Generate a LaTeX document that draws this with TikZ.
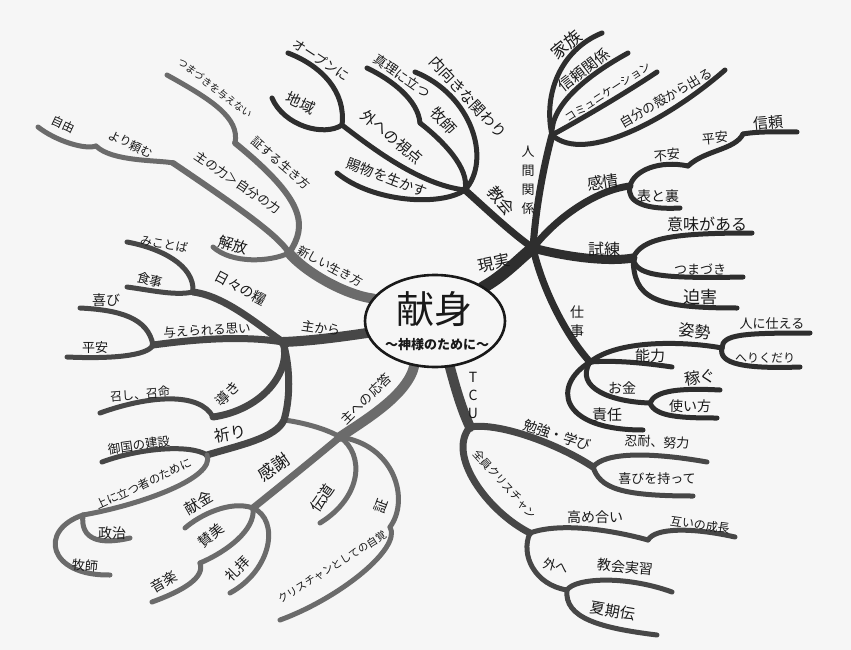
\documentclass[tikz,border=0pt]{standalone}
\usepackage{fontspec}
\setmainfont{Noto Sans CJK JP}
\usepackage{xcolor}
\usetikzlibrary{shapes.geometric}

\definecolor{paper}{gray}{0.965}
\definecolor{inkdark}{gray}{0.18}
\definecolor{inkmid}{gray}{0.28}
\definecolor{inklight}{gray}{0.42}
\definecolor{pen}{gray}{0.10}

\newcommand{\fs}[1]{\fontsize{#1}{#1}\selectfont}

\tikzset{
  branch/.style={line cap=round, line join=round},
  trunk/.style={branch, line width=10pt},
  limb/.style={branch, line width=7pt},
  twig/.style={branch, line width=5pt},
  lbl/.style={inner sep=0pt, text=pen},
  rim/.style={draw=pen, ellipse, line width=2.6pt, fill=paper,
    minimum width=140pt, minimum height=92pt},
}

\begin{document}
\begin{tikzpicture}[x=1pt, y=-1pt]
  \fill[paper] (0,0) rectangle (851,650);
  \useasboundingbox (0,0) rectangle (851,650);

  % ---- centre ----
  \node[ellipse, minimum width=140pt, minimum height=92pt] (core) at (435,321) {};

  % ---- hubs ----
  \coordinate (hubReal) at (533,248);
  \coordinate (hubFam) at (552,135);
  \coordinate (hubChurch) at (465,190);
  \coordinate (hubOpen) at (342,125);
  \coordinate (hubTruth) at (420,123);
  \coordinate (hubFeel) at (630,186);
  \coordinate (hubUneasy) at (688,166);
  \coordinate (hubPeace) at (743,134);
  \coordinate (hubTrial) at (633,258);
  \coordinate (hubWork) at (590,362);
  \coordinate (hubPose) at (722,348);
  \coordinate (hubMoney) at (650,403);
  \coordinate (hubTCU) at (470,427);
  \coordinate (hubStudy) at (593,467);
  \coordinate (hubAll) at (530,533);
  \coordinate (hubGrow) at (648,540);
  \coordinate (hubOut) at (567,590);
  \coordinate (hubAns) at (340,437);
  \coordinate (hubThank) at (253,508);
  \coordinate (hubPraise) at (200,563);
  \coordinate (hubSho) at (390,527);
  \coordinate (hubFrom) at (283,342);
  \coordinate (hubDaily) at (193,292);
  \coordinate (hubGiven) at (153,345);
  \coordinate (hubGuide) at (213,417);
  \coordinate (kPray) at (284,420);
  \coordinate (hubPray) at (207,455);
  \coordinate (hubUpper) at (83,515);
  \coordinate (hubNew) at (289,253);
  \coordinate (hubWit) at (235,143);
  \coordinate (hubPow) at (173,163);
  \coordinate (hubRely) at (96,146);

  % ---- tips ----
  \coordinate (tFamily) at (602,33);
  \coordinate (tTrust) at (628,53);
  \coordinate (tComm) at (657,72);
  \coordinate (tShell) at (725,70);
  \coordinate (tGift) at (337,173);
  \coordinate (tInward) at (415,72);
  \coordinate (tTruth) at (367,68);
  \coordinate (tOpen) at (288,53);
  \coordinate (tArea) at (272,98);
  \coordinate (tTrustB) at (797,132);
  \coordinate (tFace) at (680,208);
  \coordinate (tMeaning) at (752,233);
  \coordinate (tStumble) at (743,277);
  \coordinate (tPersec) at (737,308);
  \coordinate (tServe) at (810,333);
  \coordinate (tHumble) at (800,367);
  \coordinate (tAbility) at (672,367);
  \coordinate (tEarn) at (720,390);
  \coordinate (tUse) at (717,418);
  \coordinate (tDuty) at (643,430);
  \coordinate (tPatience) at (707,462);
  \coordinate (tJoyB) at (693,496);
  \coordinate (tGrow) at (735,537);
  \coordinate (tPractice) at (672,592);
  \coordinate (tSummer) at (657,635);
  \coordinate (tMission) at (320,523);
  \coordinate (tSelf) at (280,620);
  \coordinate (tGift2) at (185,528);
  \coordinate (tMusic) at (152,602);
  \coordinate (tWorship) at (230,593);
  \coordinate (tWord) at (127,242);
  \coordinate (tMeal) at (127,287);
  \coordinate (tJoy) at (80,308);
  \coordinate (tPeace) at (67,357);
  \coordinate (tCall) at (100,413);
  \coordinate (tKingdom) at (102,462);
  \coordinate (tPolitics) at (130,538);
  \coordinate (tPastor) at (110,575);
  \coordinate (tRelease) at (213,247);
  \coordinate (tNoStumble) at (167,75);
  \coordinate (tFree) at (38,127);

  % ---- 現実 ----
  \draw[trunk, line width=12pt, inkdark] (core.35) .. controls (505,275) and (520,258) .. (hubReal);
  \draw[limb, inkdark] (hubReal) .. controls (536,205) and (544,165) .. (hubFam);
  \draw[twig, inkdark] (hubFam) .. controls (543,95) and (560,50) .. (tFamily);
  \draw[twig, inkdark] (hubFam) .. controls (550,105) and (588,75) .. (tTrust);
  \draw[twig, inkdark] (hubFam) .. controls (565,128) and (615,100) .. (tComm);
  \draw[twig, inkdark] (hubFam) .. controls (585,165) and (670,118) .. (tShell);
  \draw[limb, inkdark] (hubReal) .. controls (510,232) and (482,205) .. (hubChurch);
  \draw[twig, inkdark] (hubChurch) .. controls (440,207) and (372,202) .. (tGift);
  \draw[twig, inkdark] (hubChurch) .. controls (420,185) and (372,148) .. (hubOpen);
  \draw[twig, inkdark] (hubChurch) .. controls (470,168) and (442,140) .. (hubTruth);
  \draw[twig, inkdark] (hubChurch) .. controls (492,160) and (472,95) .. (tInward);
  \draw[twig, inkdark] (hubTruth) .. controls (418,100) and (392,80) .. (tTruth);
  \draw[twig, inkdark] (hubOpen) .. controls (346,92) and (322,66) .. (tOpen);
  \draw[twig, inkdark] (hubOpen) .. controls (324,137) and (284,126) .. (tArea);
  \draw[limb, inkdark] (hubReal) .. controls (556,218) and (596,190) .. (hubFeel);
  \draw[twig, inkdark] (hubFeel) .. controls (634,170) and (660,160) .. (hubUneasy);
  \draw[twig, inkdark] (hubUneasy) .. controls (705,150) and (735,150) .. (hubPeace);
  \draw[twig, inkdark] (hubPeace) .. controls (760,131) and (780,132) .. (tTrustB);
  \draw[twig, inkdark] (hubFeel) .. controls (626,202) and (645,210) .. (tFace);
  \draw[limb, line width=9pt, inkdark] (hubReal) .. controls (570,258) and (610,262) .. (hubTrial);
  \draw[twig, inkdark] (hubTrial) .. controls (642,238) and (672,233) .. (tMeaning);
  \draw[twig, inkdark] (hubTrial) .. controls (636,274) and (652,279) .. (tStumble);
  \draw[twig, inkdark] (hubTrial) .. controls (634,298) and (652,308) .. (tPersec);
  \draw[limb, inkdark] (hubReal) .. controls (543,292) and (568,338) .. (hubWork);
  \draw[twig, inkdark] (hubWork) .. controls (620,338) and (690,342) .. (hubPose);
  \draw[twig, inkdark] (hubPose) .. controls (722,334) and (745,333) .. (tServe);
  \draw[twig, inkdark] (hubPose) .. controls (718,364) and (745,369) .. (tHumble);
  \draw[twig, inkdark] (hubWork) .. controls (615,360) and (645,363) .. (tAbility);
  \draw[twig, inkdark] (hubWork) .. controls (574,388) and (612,402) .. (hubMoney);
  \draw[twig, inkdark] (hubMoney) .. controls (655,390) and (682,388) .. (tEarn);
  \draw[twig, inkdark] (hubMoney) .. controls (655,417) and (682,418) .. (tUse);
  \draw[twig, inkdark] (hubWork) .. controls (552,385) and (558,430) .. (tDuty);

  % ---- TCU ----
  \draw[trunk, inkmid] (core.-72) .. controls (456,390) and (462,410) .. (hubTCU);
  \draw[limb, inkmid] (hubTCU) .. controls (500,422) and (560,445) .. (hubStudy);
  \draw[twig, inkmid] (hubStudy) .. controls (605,452) and (650,452) .. (tPatience);
  \draw[twig, inkmid] (hubStudy) .. controls (600,488) and (620,496) .. (tJoyB);
  \draw[limb, inkmid] (hubTCU) .. controls (446,455) and (488,512) .. (hubAll);
  \draw[twig, inkmid] (hubAll) .. controls (560,522) and (612,530) .. (hubGrow);
  \draw[twig, inkmid] (hubGrow) .. controls (655,528) and (690,527) .. (tGrow);
  \draw[twig, inkmid] (hubAll) .. controls (520,555) and (535,585) .. (hubOut);
  \draw[twig, inkmid] (hubOut) .. controls (575,578) and (625,575) .. (tPractice);
  \draw[twig, inkmid] (hubOut) .. controls (564,618) and (600,628) .. (tSummer);

  % ---- 主への応答 ----
  \draw[trunk, inklight] (core.245) .. controls (408,395) and (365,420) .. (hubAns);
  \draw[limb, inklight] (hubAns) .. controls (310,462) and (278,488) .. (hubThank);
  \draw[twig, inklight] (hubAns) .. controls (365,455) and (362,497) .. (tMission);
  \draw[twig, inklight] (hubAns) .. controls (395,445) and (410,500) .. (hubSho);
  \draw[twig, inklight] (hubSho) .. controls (402,548) and (340,598) .. (tSelf);
  \draw[twig, inklight] (hubThank) .. controls (230,500) and (200,515) .. (tGift2);
  \draw[twig, inklight] (hubThank) .. controls (256,530) and (226,552) .. (hubPraise);
  \draw[twig, inklight] (hubPraise) .. controls (205,577) and (185,590) .. (tMusic);
  \draw[twig, inklight] (hubThank) .. controls (280,520) and (272,570) .. (tWorship);
  \draw[twig, inklight] (kPray) .. controls (300,422) and (325,428) .. (hubAns);

  % ---- 主から ----
  \draw[trunk, inkmid] (core.190) .. controls (340,337) and (310,341) .. (hubFrom);
  \draw[limb, inkmid] (hubFrom) .. controls (258,325) and (225,296) .. (hubDaily);
  \draw[twig, inkmid] (hubDaily) .. controls (195,265) and (160,248) .. (tWord);
  \draw[twig, inkmid] (hubDaily) .. controls (175,296) and (150,290) .. (tMeal);
  \draw[limb, inkmid] (hubFrom) .. controls (240,335) and (190,340) .. (hubGiven);
  \draw[twig, inkmid] (hubGiven) .. controls (148,318) and (120,310) .. (tJoy);
  \draw[twig, inkmid] (hubGiven) .. controls (148,356) and (110,359) .. (tPeace);
  \draw[limb, inkmid] (hubFrom) .. controls (292,372) and (262,410) .. (hubGuide);
  \draw[twig, inkmid] (hubGuide) .. controls (200,392) and (150,395) .. (tCall);
  \draw[limb, inkmid] (hubFrom) .. controls (291,370) and (290,400) .. (kPray)
    .. controls (276,438) and (240,445) .. (hubPray);
  \draw[twig, inkmid] (hubPray) .. controls (190,444) and (140,448) .. (tKingdom);
  \draw[twig, inklight] (hubPray) .. controls (216,478) and (140,505) .. (hubUpper);
  \draw[twig, inklight] (hubUpper) .. controls (80,540) and (100,545) .. (tPolitics);
  \draw[twig, inklight] (hubUpper) .. controls (38,530) and (48,576) .. (tPastor);

  % ---- 新しい生き方 ----
  \draw[trunk, inklight] (core.160) .. controls (345,295) and (305,272) .. (hubNew);
  \draw[twig, inklight] (hubNew) .. controls (270,262) and (232,264) .. (tRelease);
  \draw[limb, line width=6pt, inklight] (hubNew) .. controls (280,238) and (250,215) .. (hubPow);
  \draw[limb, line width=6pt, inklight] (hubNew) .. controls (308,225) and (305,200) .. (hubWit);
  \draw[twig, inklight] (hubWit) .. controls (240,118) and (212,100) .. (tNoStumble);
  \draw[twig, inklight] (hubPow) .. controls (160,160) and (112,162) .. (hubRely);
  \draw[twig, inklight] (hubRely) .. controls (85,150) and (56,141) .. (tFree);

  % ---- centre on top ----
  \node[rim] (coreRim) at (core) {};
  \node[lbl, font=\fs{38}] (coreTitle) at (434,309) {献身};
  \node[lbl, font=\bfseries\fs{13}] (coreSub) at (437,345) {〜神様のために〜};

  % ---- labels: 現実 side ----
  \node[lbl, rotate=12, font=\fs{16}] (lReal) at (494,263) {現実};
  \node[lbl, font=\fontsize{13}{19}\selectfont, align=center] (lHuman) at (528,180) {人\\間\\関\\係};
  \node[lbl, rotate=-50, font=\fs{16}] (lChurch) at (501,201) {教会};
  \node[lbl, rotate=40, font=\fs{17}] (lFamily) at (566,45) {家族};
  \node[lbl, rotate=38, font=\fs{15}] (lTrust) at (584,70) {信頼関係};
  \node[lbl, rotate=33, font=\fs{11}] (lComm) at (608,92) {コミュニケーション};
  \node[lbl, rotate=30, font=\fs{13}] (lShell) at (666,98) {自分の殻から出る};
  \node[lbl, rotate=8, font=\fs{16}] (lFeel) at (603,182) {感情};
  \node[lbl, rotate=5, font=\fs{13}] (lUneasy) at (667,155) {不安};
  \node[lbl, rotate=5, font=\fs{13}] (lPeaceB) at (715,138) {平安};
  \node[lbl, rotate=5, font=\fs{15}] (lTrustB) at (768,123) {信頼};
  \node[lbl, font=\fs{14}] (lFace) at (658,196) {表と裏};
  \node[lbl, font=\fs{16}] (lTrial) at (604,249) {試練};
  \node[lbl, font=\fs{16}] (lMeaning) at (707,224) {意味がある};
  \node[lbl, font=\fs{13}] (lStumble) at (700,269) {つまづき};
  \node[lbl, font=\fs{17}] (lPersec) at (700,297) {迫害};
  \node[lbl, font=\fontsize{14}{19}\selectfont, align=center] (lWork) at (577,322) {仕\\事};
  \node[lbl, rotate=-5, font=\fs{16}] (lPose) at (695,331) {姿勢};
  \node[lbl, font=\fs{13}] (lServe) at (772,324) {人に仕える};
  \node[lbl, font=\fs{12}] (lHumble) at (765,358) {へりくだり};
  \node[lbl, font=\fs{15}] (lAbility) at (650,356) {能力};
  \node[lbl, rotate=8, font=\fs{16}] (lEarn) at (700,377) {稼ぐ};
  \node[lbl, font=\fs{14}] (lMoney) at (622,388) {お金};
  \node[lbl, font=\fs{14}] (lUse) at (690,406) {使い方};
  \node[lbl, font=\fs{15}] (lDuty) at (607,415) {責任};
  \node[lbl, rotate=-40, font=\fs{15}] (lOutside) at (392,137) {外への視点};
  \node[lbl, rotate=-21, font=\fs{14}] (lGift) at (387,178) {賜物を生かす};
  \node[lbl, rotate=-25, font=\fs{15}] (lArea) at (301,103) {地域};
  \node[lbl, rotate=-33, font=\fs{13}] (lOpen) at (321,60) {オープンに};
  \node[lbl, rotate=-35, font=\fs{13}] (lTruth) at (402,76) {真理に立つ};
  \node[lbl, rotate=-48, font=\fs{15}] (lPastor) at (444,121) {牧師};
  \node[lbl, rotate=-47, font=\fs{15}] (lInward) at (468,97) {内向きな関わり};

  % ---- labels: TCU ----
  \node[lbl, font=\fontsize{14}{18}\selectfont, align=center] (lTCU) at (473,395) {T\\C\\U};
  \node[lbl, rotate=-18, font=\fs{14}] (lStudy) at (557,435) {勉強・学び};
  \node[lbl, rotate=-3, font=\fs{13}] (lPatience) at (657,442) {忍耐、努力};
  \node[lbl, font=\fs{13}] (lJoyB) at (657,479) {喜びを持って};
  \node[lbl, rotate=-48, font=\fs{11}] (lAll) at (505,484) {全員クリスチャン};
  \node[lbl, font=\fs{14}] (lMutual) at (595,517) {高め合い};
  \node[lbl, rotate=-8, font=\fs{12}] (lGrow) at (700,525) {互いの成長};
  \node[lbl, rotate=-15, font=\fs{13}] (lOut) at (556,566) {外へ};
  \node[lbl, rotate=-5, font=\fs{14}] (lPractice) at (625,567) {教会実習};
  \node[lbl, rotate=-10, font=\fs{15}] (lSummer) at (613,611) {夏期伝};

  % ---- labels: 主への応答 ----
  \node[lbl, rotate=45, font=\fs{13}] (lAns) at (366,399) {主への応答};
  \node[lbl, rotate=35, font=\fs{17}] (lThank) at (274,467) {感謝};
  \node[lbl, rotate=55, font=\fs{15}] (lMission) at (322,498) {伝道};
  \node[lbl, rotate=70, font=\fs{14}] (lSho) at (381,506) {証};
  \node[lbl, rotate=32, font=\fs{10.5}] (lSelf) at (332,567) {クリスチャンとしての自覚};
  \node[lbl, rotate=30, font=\fs{15}] (lGift2) at (199,503) {献金};
  \node[lbl, rotate=40, font=\fs{14}] (lPraise) at (211,535) {賛美};
  \node[lbl, rotate=30, font=\fs{14}] (lMusic) at (164,582) {音楽};
  \node[lbl, rotate=45, font=\fs{14}] (lWorship) at (238,569) {礼拝};

  % ---- labels: 主から ----
  \node[lbl, rotate=-8, font=\fs{13}] (lFrom) at (321,328) {主から};
  \node[lbl, rotate=-28, font=\fs{14}] (lDaily) at (241,288) {日々の糧};
  \node[lbl, rotate=-10, font=\fs{12}] (lWord) at (164,244) {みことば};
  \node[lbl, rotate=-15, font=\fs{13}] (lMeal) at (150,280) {食事};
  \node[lbl, rotate=3, font=\fs{12.5}] (lGiven) at (207,330) {与えられる思い};
  \node[lbl, font=\fs{14}] (lJoy) at (106,300) {喜び};
  \node[lbl, font=\fs{13}] (lPeace) at (95,348) {平安};
  \node[lbl, rotate=45, font=\fs{14}] (lGuide) at (228,394) {導き};
  \node[lbl, rotate=5, font=\fs{12}] (lCall) at (140,394) {召し、召命};
  \node[lbl, rotate=10, font=\fs{16}] (lPray) at (230,434) {祈り};
  \node[lbl, rotate=8, font=\fs{12.5}] (lKingdom) at (139,445) {御国の建設};
  \node[lbl, rotate=25, font=\fs{11.5}] (lUpper) at (144,484) {上に立つ者のために};
  \node[lbl, font=\fs{14}] (lPolitics) at (112,533) {政治};
  \node[lbl, rotate=-5, font=\fs{13}] (lPastorB) at (85,566) {牧師};

  % ---- labels: 新しい生き方 ----
  \node[lbl, rotate=-28, font=\fs{12}] (lNew) at (330,266) {新しい生き方};
  \node[lbl, rotate=-15, font=\fs{15}] (lRelease) at (233,245) {解放};
  \node[lbl, rotate=-34, font=\fs{12.5}] (lPow) at (238,183) {主の力＞自分の力};
  \node[lbl, rotate=-41, font=\fs{12}] (lWit) at (281,163) {証する生き方};
  \node[lbl, rotate=-37, font=\fs{10}] (lNoStumble) at (215,88) {つまづきを与えない};
  \node[lbl, rotate=-25, font=\fs{12}] (lRely) at (131,144) {より頼む};
  \node[lbl, rotate=-25, font=\fs{12}] (lFree) at (63,124) {自由};
\end{tikzpicture}
\end{document}
